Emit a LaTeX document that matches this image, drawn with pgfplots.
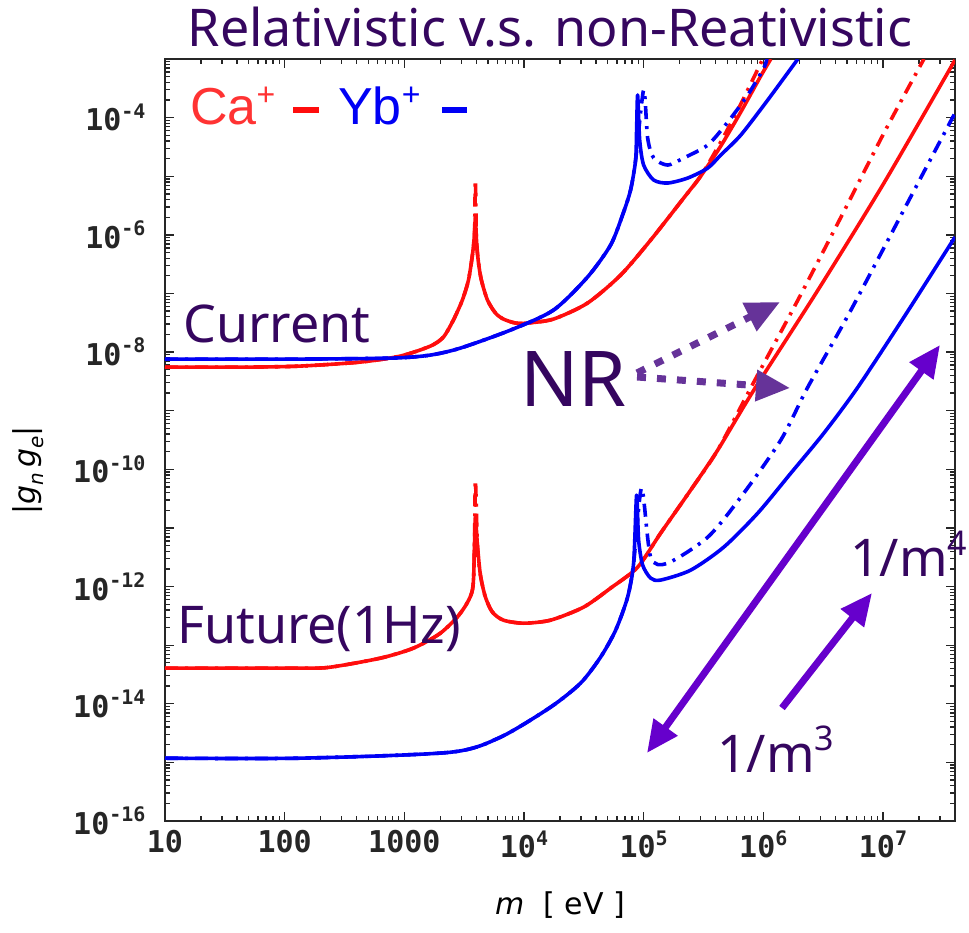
\documentclass[border=0pt]{standalone}
\usepackage{pgfplots}
\pgfplotsset{compat=1.18}
\usetikzlibrary{arrows.meta}
\usepackage{fontspec}
\setmainfont{Noto Sans}
\newfontfamily\ticksfont{DejaVu Sans Mono}
\newfontfamily\labelfont{DejaVu Sans}
\newfontfamily\keyfont{Liberation Sans}

\definecolor{ttl}{HTML}{35065F}
\definecolor{nrp}{HTML}{663399}
\definecolor{violet}{HTML}{6600CC}
\definecolor{keyred}{HTML}{FF3333}
\definecolor{cred}{HTML}{FF0D0D}
\definecolor{cblue}{HTML}{0000F5}

\newcommand{\tsup}[1]{\raisebox{0.42em}{\fontsize{20}{20}\selectfont #1}}
\newcommand{\bigtxt}{\fontsize{52}{60}\selectfont}

\begin{document}
\begin{tikzpicture}
\begin{axis}[
  scale only axis, width=790pt, height=762pt,
  xmode=log, ymode=log,
  xmin=10, xmax=4e7, ymin=1e-16, ymax=1e-3,
  axis line style={line width=1.6pt, black!85},
  tick align=inside,
  major tick length=9pt, minor tick length=5pt,
  every tick/.style={line width=1.3pt, black!85},
  xtick={10,100,1000,1e4,1e5,1e6,1e7},
  xticklabels={10,100,1000,10\tsup{4},10\tsup{5},10\tsup{6},10\tsup{7}},
  minor xtick={20,30,40,50,60,70,80,90,200,300,400,500,600,700,800,900,
    2000,3000,4000,5000,6000,7000,8000,9000,2e4,3e4,4e4,5e4,6e4,7e4,8e4,9e4,
    2e5,3e5,4e5,5e5,6e5,7e5,8e5,9e5,2e6,3e6,4e6,5e6,6e6,7e6,8e6,9e6,2e7,3e7},
  ytick={1e-16,1e-15,1e-14,1e-13,1e-12,1e-11,1e-10,1e-9,1e-8,1e-7,1e-6,1e-5,1e-4,1e-3},
  yticklabels={{10\tsup{-16}},{},{10\tsup{-14}},{},{10\tsup{-12}},{},{10\tsup{-10}},{},
    {10\tsup{-8}},{},{10\tsup{-6}},{},{10\tsup{-4}},{}},
  ticklabel style={font=\ticksfont\bfseries\fontsize{30}{30}\selectfont, text=black!85},
  xticklabel style={yshift=-6pt},
  yticklabel style={xshift=-16pt},
  xlabel={\labelfont\fontsize{30}{30}\selectfont\itshape m\upshape\ \ [ eV ]},
  xlabel style={at={(axis description cs:0.5,0)}, anchor=center, yshift=-84pt},
  ylabel={\labelfont\fontsize{30}{30}\selectfont |\itshape g\raisebox{-0.25em}{\fontsize{20}{20}\selectfont n}\,g\raisebox{-0.25em}{\fontsize{20}{20}\selectfont e}\upshape|},
  ylabel style={at={(axis description cs:-0.173,0.46)}, anchor=center},
  every axis plot/.append style={line width=3.6pt, line join=round, smooth, tension=0.45},
  clip=true,
]
% Ca+ , present sensitivity, relativistic
\addplot[cred] coordinates {
 (10,5.55e-9) (51.4,5.55e-9) (135,5.77e-9) (428,6.75e-9) (927,8.55e-9)
 (1650,1.265e-8) (2120,1.80e-8) (2570,3.52e-8) (3055,7.71e-8) (3436,1.69e-7)
 (3707,4.52e-7) (3855,9.93e-7) (3927,2.01e-6) (4009,8.15e-7) (4159,3.44e-7)
 (4406,1.69e-7) (4954,7.71e-8) (5781,4.63e-8) (6730,3.66e-8) (8490,3.13e-8)
 (10690,3.13e-8) (17660,3.66e-8) (33970,6.86e-8) (64270,2.06e-7) (114500,8.15e-7)
 (216200,4.25e-6) (3.0e5,1.007e-5) (4.41e5,3.27e-5) (6.49e5,1.25e-4)
 (9.53e5,5.13e-4) (1.156e6,1e-3)
};
% Ca+ , present sensitivity, non-relativistic
\addplot[cred, dash pattern=on 13pt off 7pt on 3pt off 7pt] coordinates {
 (10,5.55e-9) (51.4,5.55e-9) (135,5.77e-9) (428,6.75e-9) (927,8.55e-9)
 (1650,1.265e-8) (2120,1.80e-8) (2570,3.52e-8) (3055,7.71e-8) (3436,1.69e-7)
 (3707,4.52e-7) (3855,9.93e-7) (3927,8.61e-6) (4009,8.15e-7) (4159,3.44e-7)
 (4406,1.69e-7) (4954,7.71e-8) (5781,4.63e-8) (6730,3.66e-8) (8490,3.13e-8)
 (10690,3.13e-8) (17660,3.66e-8) (33970,6.86e-8) (64270,2.06e-7) (114500,8.15e-7)
 (216200,4.25e-6) (3.0e5,1.007e-5) (4.41e5,3.84e-5) (6.49e5,1.71e-4) (9.9e5,1e-3)
};
% Yb+ , present sensitivity, relativistic
\addplot[cblue] coordinates {
 (10,7.6e-9) (135,7.6e-9) (809,7.91e-9) (1650,8.89e-9) (2944,1.17e-8)
 (7709,2.37e-8) (17660,5.21e-8) (33970,1.905e-7) (52970,6.70e-7) (66680,2.18e-6)
 (77800,5.82e-6) (85700,1.89e-5) (87330,6.14e-5) (89100,2.43e-4) (92680,4.15e-5)
 (1.0e5,1.55e-5) (1.213e5,8.61e-6) (1.589e5,7.66e-6) (2.334e5,9.31e-6)
 (3.436e5,1.38e-5) (4.41e5,2.30e-5) (6.49e5,5.05e-5) (1.09e6,2.0e-4) (1.945e6,1e-3)
};
% Yb+ , present sensitivity, non-relativistic
\addplot[cblue, dash pattern=on 13pt off 7pt on 3pt off 7pt] coordinates {
 (10,7.6e-9) (135,7.6e-9) (809,7.91e-9) (1650,8.89e-9) (2944,1.17e-8)
 (7709,2.37e-8) (17660,5.21e-8) (33970,1.905e-7) (52970,6.70e-7) (66680,2.18e-6)
 (77800,5.82e-6) (85700,1.89e-5) (1.0e5,2.96e-4) (1.08e5,4.49e-5) (1.213e5,2.05e-5)
 (1.589e5,1.55e-5) (2.162e5,2.05e-5) (3.436e5,3.41e-5) (5.05e5,8.41e-5)
 (7.41e5,2.43e-4) (1.01e6,7.02e-4) (1.07e6,1e-3)
};
% Ca+ , 1 Hz projection, relativistic
\addplot[cred] coordinates {
 (10,4.06e-14) (135,4.06e-14) (240,4.21e-14) (630,6.0e-14) (1189,8.89e-14)
 (2000,1.60e-13) (2944,3.52e-13) (3707,8.69e-13) (3855,5.08e-12)
 (3927,1.53e-11) (4083,5.08e-12) (4325,1.57e-12) (4763,6.59e-13) (5449,3.66e-13)
 (6730,2.67e-13) (9908,2.37e-13) (16670,2.67e-13) (31480,4.45e-13) (52970,9.40e-13)
 (89100,2.14e-12) (138700,8.15e-12) (247200,4.42e-11) (415900,2.13e-10)
 (833700,2.25e-9) (2.86e6,1.14e-7) (1.019e7,7.66e-6) (4e7,9.6e-4)
};
% Ca+ , 1 Hz projection, non-relativistic
\addplot[cred, dash pattern=on 13pt off 7pt on 3pt off 7pt] coordinates {
 (10,4.06e-14) (135,4.06e-14) (240,4.21e-14) (630,6.0e-14) (1189,8.89e-14)
 (2000,1.60e-13) (2944,3.52e-13) (3707,8.69e-13) (3855,5.08e-12)
 (3927,6.55e-11) (4083,5.08e-12) (4325,1.57e-12) (4763,6.59e-13) (5449,3.66e-13)
 (6730,2.67e-13) (9908,2.37e-13) (16670,2.67e-13) (31480,4.45e-13) (52970,9.40e-13)
 (89100,2.14e-12) (138700,8.15e-12) (247200,4.42e-11) (415900,2.13e-10)
 (833700,3.08e-9) (1.945e6,7.71e-8) (4.46e6,2.01e-6) (1.019e7,5.46e-5) (2.2e7,1e-3)
};
% Yb+ , 1 Hz projection, relativistic
\addplot[cblue] coordinates {
 (10,1.18e-15) (135,1.18e-15) (2427,1.49e-15) (6353,2.69e-15) (16670,8.75e-15)
 (29720,2.25e-14) (43650,6.24e-14) (58340,1.80e-13) (73450,6.59e-13) (82460,2.51e-12)
 (87330,3.63e-11) (90800,6.19e-12) (98160,2.32e-12) (114500,1.39e-12) (138700,1.29e-12)
 (2.472e5,1.905e-12) (4.67e5,4.70e-12) (8.99e5,1.79e-11) (1.70e6,8.61e-11)
 (3.21e6,4.15e-10) (6.18e6,2.53e-9) (1.556e7,4.45e-8) (4e7,9.17e-7)
};
% Yb+ , 1 Hz projection, non-relativistic
\addplot[cblue, dash pattern=on 13pt off 7pt on 3pt off 7pt] coordinates {
 (10,1.18e-15) (135,1.18e-15) (2427,1.49e-15) (6353,2.69e-15) (16670,8.75e-15)
 (29720,2.25e-14) (43650,6.24e-14) (58340,1.80e-13) (73450,6.59e-13) (82460,2.51e-12)
 (96160,4.78e-11) (114500,3.18e-12) (1.589e5,2.51e-12) (3.436e5,6.97e-12)
 (6.49e5,3.36e-11) (1.40e6,3.15e-10) (2.356e6,2.53e-9) (5.40e6,5.21e-8)
 (1.963e7,7.66e-6) (4e7,1.20e-4)
};
\end{axis}

% title and key
\node[anchor=base, inner sep=0, text=ttl, font=\bigtxt] at (385pt,774pt) {Relativistic v.s. non-Reativistic};
\node[anchor=base west, inner sep=0, text=keyred, font=\keyfont\fontsize{52}{60}\selectfont] at (25pt,696pt)
  {Ca\raisebox{0.38em}{\fontsize{32}{32}\selectfont +}};
\fill[cred] (128pt,708pt) rectangle (154pt,714pt);
\node[anchor=base west, inner sep=0, text=cblue, font=\keyfont\fontsize{52}{60}\selectfont] at (173pt,696pt)
  {Yb\raisebox{0.38em}{\fontsize{32}{32}\selectfont +}};
\fill[cblue] (277pt,708pt) rectangle (302pt,714pt);

% annotations
\node[anchor=base west, inner sep=0, text=ttl, font=\bigtxt] at (18pt,478pt) {Current};
\node[anchor=base west, inner sep=0, text=ttl, font=\bigtxt] at (12pt,178pt) {Future(1Hz)};
\node[anchor=base west, inner sep=0, text=ttl, font=\fontsize{77}{80}\selectfont] at (355pt,414pt) {NR};
\node[anchor=base west, inner sep=0, text=ttl, font=\bigtxt] at (685pt,244pt) {1/m\raisebox{0.42em}{\fontsize{34}{34}\selectfont 4}};
\node[anchor=base west, inner sep=0, text=ttl, font=\bigtxt] at (552pt,49pt) {1/m\raisebox{0.42em}{\fontsize{34}{34}\selectfont 3}};

\draw[nrp, line width=7pt, dash pattern=on 9pt off 11pt, -{Triangle[length=34pt,width=30pt]}]
  (472pt,448pt) -- (615pt,519pt);
\draw[nrp, line width=7pt, dash pattern=on 9pt off 11pt, -{Triangle[length=34pt,width=30pt]}]
  (472pt,444pt) -- (625pt,433pt);
\draw[violet, line width=7pt, {Triangle[length=32pt,width=28pt]}-{Triangle[length=32pt,width=28pt]}]
  (482pt,68pt) -- (775pt,476pt);
\draw[violet, line width=7pt, -{Triangle[length=32pt,width=28pt]}]
  (617pt,113pt) -- (707pt,228pt);

\path[use as bounding box] (-165pt,-111pt) rectangle (804pt,821pt);
\end{tikzpicture}
\end{document}
